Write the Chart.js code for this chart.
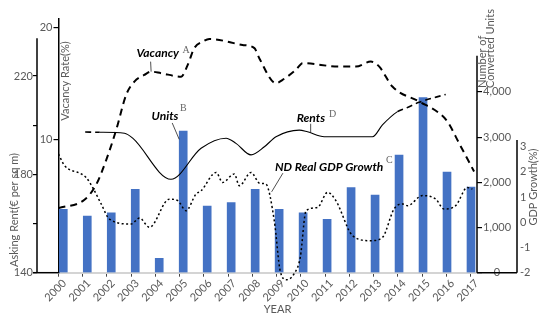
<!DOCTYPE html>
<html>
<head>
<meta charset="utf-8">
<script src="https://cdn.jsdelivr.net/npm/chart.js@4.4.1/dist/chart.umd.min.js"></script>
<style>
  html, body { margin: 0; padding: 0; background: #fff; }
  canvas { display: block; }
</style>
</head>
<body>
<canvas id="chart" width="544" height="321"></canvas>
<script>
// ---- data ----
const years = [2000, 2001, 2002, 2003, 2004, 2005, 2006, 2007, 2008, 2009, 2010, 2011, 2012, 2013, 2014, 2015, 2016, 2017];
const yearLabels = years.map(String);
const convertedUnits = [1400, 1254, 1327, 1845, 319, 3135, 1476, 1549, 1845, 1403, 1327, 1181, 1881, 1719, 2604, 3872, 2228, 1896];

const vacancyYears = [2000.0, 2001.07, 2001.55, 2001.97, 2002.38, 2002.79, 2003.13, 2003.54, 2003.82, 2004.23, 2005.06, 2005.33, 2005.6, 2005.95, 2006.22, 2007.59, 2008.08, 2008.28, 2008.97, 2009.24, 2009.79, 2010.07, 2011.58, 2012.27, 2012.88, 2013.23, 2013.77, 2014.87, 2015.7, 2016.04, 2016.52, 2017.14];
const vacancyRate  = [3.8, 4.55, 5.9, 8.14, 10.84, 13.98, 15.18, 15.78, 16.07, 15.93, 15.62, 16.68, 18.18, 18.77, 19.01, 18.47, 18.18, 17.28, 15.03, 15.33, 16.23, 16.83, 16.52, 16.52, 16.97, 16.52, 14.73, 13.38, 12.34, 11.58, 9.64, 7.09];

const rentYears  = [2001.1, 2001.7, 2002.72, 2003.06, 2004.64, 2005.88, 2006.91, 2007.32, 2007.94, 2008.49, 2008.97, 2009.93, 2010.27, 2010.96, 2012.95, 2013.36, 2013.98, 2014.33, 2014.87, 2015.97];
const askingRent = [197.2, 197.1, 196.7, 194.7, 178.0, 190.6, 194.7, 192.6, 187.9, 191.2, 195.3, 198.0, 197.3, 195.3, 195.3, 200.1, 205.5, 206.9, 209.3, 212.5];
const rentSolidFrom = 2001.7;   // first recorded year; earlier part is dashed
const rentSolidTo = 2013.98;    // projection after this point is dashed

const gdpYears  = [2000.0, 2000.25, 2000.94, 2001.14, 2001.41, 2001.76, 2002.1, 2003.0, 2003.34, 2003.75, 2004.57, 2004.92, 2005.26, 2005.67, 2005.88, 2006.5, 2006.77, 2007.25, 2007.46, 2007.94, 2008.3, 2008.55, 2008.9, 2009.15, 2009.41, 2009.72, 2009.97, 2010.21, 2010.68, 2011.1, 2011.44, 2012.13, 2012.88, 2013.36, 2013.84, 2014.19, 2014.39, 2015.01, 2015.56, 2015.9, 2016.38, 2016.86, 2017.07];
const gdpGrowth = [2.71, 2.25, 1.92, 1.78, 1.38, 0.73, 0.13, -0.07, 0.17, -0.2, 0.92, 0.86, 0.46, 1.12, 1.25, 1.98, 1.58, 1.92, 1.45, 1.98, 1.55, 1.52, 0.06, -1.96, -2.28, -2.04, -1.4, 0.46, 0.59, 1.19, 0.86, -0.53, -0.73, -0.6, 0.53, 0.73, 0.66, 1.06, 0.92, 0.53, 0.66, 1.38, 1.32];

const rentTicks = [140, 160, 180, 200, 220];
const rentTickLabels = ['140', '', '180', '', '220'];
const vacancyTicks = [10, 20];
const vacancyTickLabels = ['10', '20'];
const unitTicks = [0, 1000, 2000, 3000, 4000];
const unitTickLabels = ['0', '1,000', '2,000', '3,000', '4,000'];
const gdpTicks = [-2, -1, 0, 1, 2, 3];
const gdpTickLabels = ['-2', '-1', '0', '1', '2', '3'];

// visible extent of the secondary axis lines
const rentAxisTop = 235.3;
const unitsAxisTop = 4800;
const gdpAxisTop = 3.27;

// ---- styling ----
const GREY = '#595959';
const FONT = 'Lato, "Open Sans", sans-serif';
Chart.defaults.font.family = FONT;

const pts = (xs, ys) => xs.map((x, i) => ({ x, y: ys[i] }));
const fixedTicks = (vals) => (scale) => { scale.ticks = vals.map(v => ({ value: v })); };
const labelFor = (vals, labels) => (v) => { const i = vals.indexOf(v); return i < 0 ? '' : labels[i]; };

const axisDecor = {
  id: 'axisDecor',
  afterDraw(chart) {
    const { ctx, chartArea: ca, scales: s } = chart;
    const bottom = ca.bottom;
    ctx.save();
    ctx.strokeStyle = '#000';
    ctx.lineWidth = 1.5;
    const seg = (x1, y1, x2, y2) => { ctx.beginPath(); ctx.moveTo(x1, y1); ctx.lineTo(x2, y2); ctx.stroke(); };

    // outer axis lines and the base line running out to them
    seg(s.yRent.right, s.yRent.getPixelForValue(rentAxisTop), s.yRent.right, bottom);
    seg(s.yRent.right - 4, bottom, ca.left, bottom);
    seg(s.yUnits.left, s.yUnits.getPixelForValue(unitsAxisTop), s.yUnits.left, bottom);
    seg(ca.right, bottom, s.yGdp.left, bottom);
    seg(s.yGdp.left, s.yGdp.getPixelForValue(gdpAxisTop), s.yGdp.left, bottom);

    // axis titles
    ctx.fillStyle = GREY;
    ctx.font = '11px ' + FONT;
    const vtext = (t, x, y, align) => {
      ctx.save(); ctx.translate(x, y); ctx.rotate(-Math.PI / 2);
      ctx.textAlign = align || 'center'; ctx.textBaseline = 'middle';
      ctx.fillText(t, 0, 0); ctx.restore();
    };
    vtext('Vacancy Rate(%)', ca.left + 7, 81);
    vtext('Asking Rent(€ per sq m)', 14.7, 210);
    vtext('Number of', s.yUnits.left + 5.5, 88, 'left');
    vtext('Converted Units', s.yUnits.left + 13.5, 88, 'left');
    vtext('GDP Growth(%)', s.yGdp.left + 16, 187);
    ctx.textAlign = 'center'; ctx.textBaseline = 'middle';
    ctx.fillText('YEAR', 277.5, 309);

    // series call-outs with leader lines
    const callouts = [
      { text: 'Vacancy', letter: 'A', ax: s.x.getPixelForValue(2003.82), ay: s.yVac.getPixelForValue(16.07),
        lead: [-0.5, -10], tx: -14.7, ty: -15, lx: 31.3, ly: -18.4 },
      { text: 'Units', letter: 'B', ax: s.xBar.getPixelForValue(2005) - 4, ay: s.yUnits.getPixelForValue(2950),
        lead: [-7, -16.4], tx: -27.6, ty: -19, lx: 0.7, ly: -28 },
      { text: 'Rents', letter: 'D', ax: s.x.getPixelForValue(2010.4), ay: s.yRent.getPixelForValue(197.2),
        lead: [0, -8.3], tx: -14, ty: -9.8, lx: 18.3, ly: -15.1 },
      { text: 'ND Real GDP Growth', letter: 'C', ax: s.x.getPixelForValue(2008.79), ay: s.yGdp.getPixelForValue(1.21),
        lead: [11.3, -18.7], tx: 3.3, ty: -20.7, lx: 114.3, ly: -28.4 }
    ];
    ctx.lineWidth = 0.8;
    ctx.strokeStyle = '#222';
    ctx.textAlign = 'left';
    ctx.textBaseline = 'alphabetic';
    for (const c of callouts) {
      seg(c.ax, c.ay, c.ax + c.lead[0], c.ay + c.lead[1]);
      ctx.fillStyle = '#000';
      ctx.font = 'italic bold 12px ' + FONT;
      ctx.fillText(c.text, c.ax + c.tx, c.ay + c.ty);
      ctx.fillStyle = '#666';
      ctx.font = '10px "Liberation Serif", "DejaVu Serif", serif';
      ctx.fillText(c.letter, c.ax + c.lx, c.ay + c.ly);
    }
    ctx.restore();
  }
};

const tickFont = { family: FONT, size: 11 };

new Chart(document.getElementById('chart'), {
  type: 'line',
  data: {
    datasets: [
      {
        label: 'ND Real GDP Growth',
        data: pts(gdpYears, gdpGrowth),
        xAxisID: 'x', yAxisID: 'yGdp',
        borderColor: '#000', borderWidth: 1.5, borderDash: [2, 2.5],
        pointRadius: 0, cubicInterpolationMode: 'monotone', fill: false,
        clip: false, order: 3
      },
      {
        label: 'Rents',
        data: pts(rentYears, askingRent),
        xAxisID: 'x', yAxisID: 'yRent',
        borderColor: '#000', borderWidth: 1.1,
        pointRadius: 0, cubicInterpolationMode: 'monotone', fill: false,
        segment: {
          borderDash: ctx => (ctx.p1.parsed.x <= rentSolidFrom || ctx.p0.parsed.x >= rentSolidTo) ? [6, 4] : undefined,
          borderWidth: ctx => (ctx.p1.parsed.x <= rentSolidFrom || ctx.p0.parsed.x >= rentSolidTo) ? 1.6 : undefined
        },
        order: 2
      },
      {
        label: 'Vacancy',
        data: pts(vacancyYears, vacancyRate),
        xAxisID: 'x', yAxisID: 'yVac',
        borderColor: '#000', borderWidth: 2, borderDash: [7, 5],
        pointRadius: 0, cubicInterpolationMode: 'monotone', fill: false,
        order: 1
      },
      {
        type: 'bar',
        label: 'Units',
        data: pts(years, convertedUnits),
        xAxisID: 'xBar', yAxisID: 'yUnits',
        backgroundColor: '#4472c4',
        barThickness: 8, grouped: false,
        order: 10
      }
    ]
  },
  options: {
    responsive: false,
    animation: false,
    events: [],
    layout: { padding: { top: 19, left: 0, right: 0, bottom: 0 } },
    plugins: { legend: { display: false }, tooltip: { enabled: false } },
    scales: {
      x: {
        type: 'linear', position: 'bottom', min: 2000, max: 2017.26, offset: false,
        afterBuildTicks: fixedTicks(years),
        afterFit: s => { s.height = 48.3; },
        ticks: { autoSkip: false, minRotation: 45, maxRotation: 45, includeBounds: false,
                 color: GREY, font: tickFont, padding: 0, labelOffset: 6, callback: labelFor(years, yearLabels) },
        grid: { drawOnChartArea: false, drawTicks: true, tickLength: 4, color: '#444', lineWidth: 1 },
        border: { display: true, color: '#d4d4d4', width: 2 }
      },
      xBar: {
        type: 'linear', display: false, offset: false, min: 1999.8, max: 2017.25
      },
      yVac: {
        type: 'linear', position: 'left', weight: 0, min: -2, max: 20.8,
        afterBuildTicks: fixedTicks(vacancyTicks),
        afterFit: s => { s.width = 21.5; },
        ticks: { color: GREY, font: tickFont, padding: 1, callback: labelFor(vacancyTicks, vacancyTickLabels) },
        grid: { drawOnChartArea: false, tickLength: 5, color: '#000', lineWidth: 1.2 },
        border: { display: true, color: '#000', width: 1.5 }
      },
      yRent: {
        type: 'linear', position: 'left', weight: 1, min: 140, max: 243.17,
        afterBuildTicks: fixedTicks(rentTicks),
        afterFit: s => { s.width = 37; },
        ticks: { color: GREY, font: tickFont, padding: 0, callback: labelFor(rentTicks, rentTickLabels) },
        grid: { drawOnChartArea: false, tickLength: 4, color: '#000', lineWidth: 1.2 },
        border: { display: false }
      },
      yUnits: {
        type: 'linear', position: 'right', weight: 0, min: 0, max: 5613,
        afterBuildTicks: fixedTicks(unitTicks),
        afterFit: s => { s.width = 40; },
        ticks: { color: GREY, font: tickFont, padding: 1, crossAlign: 'center', callback: labelFor(unitTicks, unitTickLabels) },
        grid: { drawOnChartArea: false, tickLength: 5, color: '#000', lineWidth: 1.2 },
        border: { display: false }
      },
      yGdp: {
        type: 'linear', position: 'right', weight: 1, min: -2, max: 8.07,
        afterBuildTicks: fixedTicks(gdpTicks),
        afterFit: s => { s.width = 27; },
        ticks: { color: GREY, font: tickFont, padding: 3, callback: labelFor(gdpTicks, gdpTickLabels) },
        grid: { drawOnChartArea: false, drawTicks: false },
        border: { display: false }
      }
    }
  },
  plugins: [axisDecor]
});
</script>
</body>
</html>
